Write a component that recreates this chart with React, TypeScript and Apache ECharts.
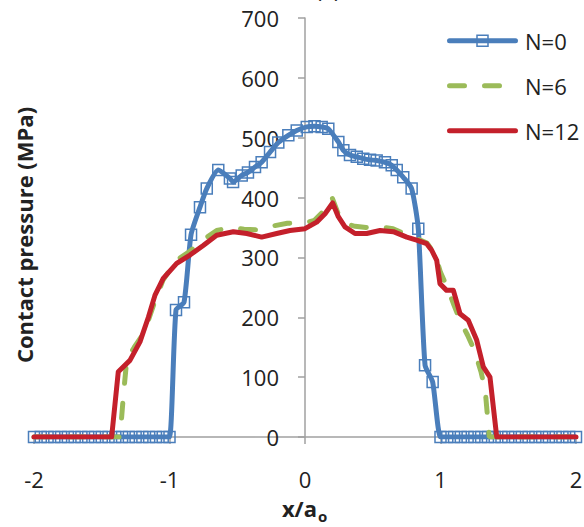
import React, { useEffect, useRef } from "react";
import * as echarts from "echarts";

// Contact pressure profiles across the contact width for three cycle counts
const xTicks = ["-2", "-1", "0", "1", "2"];
const yTicks = [0, 100, 200, 300, 400, 500, 600, 700];
const seriesNames = ["N=0", "N=6", "N=12"];

const n0: number[][] = [
  [-2, 0], [-1.95, 0], [-1.9, 0], [-1.85, 0], [-1.8, 0], [-1.75, 0], [-1.7, 0],
  [-1.65, 0], [-1.6, 0], [-1.55, 0], [-1.5, 0], [-1.45, 0], [-1.4, 0], [-1.35, 0],
  [-1.3, 0], [-1.25, 0], [-1.2, 0], [-1.15, 0], [-1.1, 0], [-1.05, 0], [-1.0, 0],
  [-0.952, 212], [-0.893, 225], [-0.841, 338], [-0.775, 384], [-0.725, 415],
  [-0.64, 446], [-0.554, 432], [-0.531, 426], [-0.467, 437], [-0.421, 442],
  [-0.369, 451], [-0.32, 459], [-0.258, 476], [-0.197, 492], [-0.123, 504],
  [-0.061, 512], [0.013, 518], [0.07, 519], [0.123, 518], [0.172, 515],
  [0.246, 493], [0.283, 479], [0.332, 471], [0.382, 468], [0.43, 465],
  [0.48, 463], [0.529, 462], [0.59, 459], [0.64, 454], [0.677, 446],
  [0.725, 434], [0.787, 415], [0.836, 348], [0.886, 120], [0.942, 92],
  [1.0, 0], [1.05, 0], [1.1, 0], [1.15, 0], [1.2, 0], [1.25, 0], [1.3, 0],
  [1.35, 0], [1.4, 0], [1.45, 0], [1.5, 0], [1.55, 0], [1.6, 0], [1.65, 0],
  [1.7, 0], [1.75, 0], [1.8, 0], [1.85, 0], [1.9, 0], [1.95, 0], [2.0, 0],
];

const n6: number[][] = [
  [-2, 0], [-1.8, 0], [-1.6, 0], [-1.4, 0], [-1.365, 0], [-1.34, 70],
  [-1.315, 130], [-1.26, 150], [-1.2, 170], [-1.156, 195], [-1.1, 232],
  [-1.048, 262], [-0.95, 295], [-0.85, 310], [-0.75, 330], [-0.652, 345],
  [-0.55, 350], [-0.45, 347], [-0.35, 346], [-0.25, 352], [-0.13, 357],
  [0, 358], [0.07, 362], [0.14, 378], [0.2, 400], [0.25, 370], [0.3, 356],
  [0.37, 352], [0.45, 350], [0.55, 351], [0.65, 348], [0.75, 338],
  [0.82, 332], [0.9, 324], [0.96, 305], [1.0, 275], [1.05, 250], [1.1, 220],
  [1.15, 192], [1.2, 170], [1.25, 145], [1.3, 108], [1.33, 78], [1.36, 0],
  [1.6, 0], [1.8, 0], [2, 0],
];

const n12: number[][] = [
  [-2, 0], [-1.8, 0], [-1.6, 0], [-1.427, 0], [-1.378, 109], [-1.292, 128],
  [-1.218, 159], [-1.156, 200], [-1.107, 237], [-1.046, 265], [-0.947, 290],
  [-0.849, 304], [-0.751, 320], [-0.652, 337], [-0.529, 343], [-0.43, 340],
  [-0.32, 334], [-0.209, 340], [-0.111, 345], [0, 348], [0.086, 359],
  [0.148, 373], [0.204, 391], [0.246, 368], [0.295, 351], [0.369, 340],
  [0.455, 340], [0.554, 345], [0.652, 343], [0.751, 334], [0.824, 329],
  [0.898, 323], [0.935, 312], [0.972, 295], [0.996, 256], [1.045, 245],
  [1.095, 245], [1.144, 206], [1.205, 195], [1.267, 162], [1.316, 117],
  [1.365, 100], [1.415, 0], [1.6, 0], [1.8, 0], [2, 0],
];

const FONT = "'Open Sans', sans-serif";
const BLUE = "#4a7ebb";
const GREEN = "#9bbb59";
const RED = "#c4202b";
const AXIS = "#a0a0a0";
const INK = "#222222";

const GRID_LEFT = 34;
const GRID_RIGHT = 8;
const WIDTH = 584;
// the value axis is drawn through x = 0, halfway across the plot
const Y_AXIS_SHIFT = (WIDTH - GRID_LEFT - GRID_RIGHT) / 2;

// Hand-drawn legend: line samples on the right, labels after them
function legendGraphics() {
  const x0 = 447;
  const x1 = 518;
  const rows = [40.7, 85.7, 130.7];
  const items: any[] = [];
  // N=0: solid blue with a hollow square in the middle
  items.push({
    type: "line",
    shape: { x1: x0 + 2.5, y1: rows[0], x2: x1 - 2.5, y2: rows[0] },
    style: { stroke: BLUE, lineWidth: 5, lineCap: "round" },
  });
  items.push({
    type: "rect",
    shape: { x: (x0 + x1) / 2 - 5.5, y: rows[0] - 5.5, width: 11, height: 11 },
    style: { fill: "rgba(255,255,255,0)", stroke: BLUE, lineWidth: 1.5 },
  });
  // N=6: two green dashes
  [[x0 + 2.5, x0 + 17.5], [x0 + 37.5, x0 + 52.5]].forEach(([a, b]) => {
    items.push({
      type: "line",
      shape: { x1: a, y1: rows[1], x2: b, y2: rows[1] },
      style: { stroke: GREEN, lineWidth: 5, lineCap: "round" },
    });
  });
  // N=12: solid red
  items.push({
    type: "line",
    shape: { x1: x0 + 2.5, y1: rows[2], x2: x1 - 2.5, y2: rows[2] },
    style: { stroke: RED, lineWidth: 5, lineCap: "round" },
  });
  seriesNames.forEach((name, i) => {
    items.push({
      type: "text",
      x: 525,
      y: rows[i],
      style: { text: name, font: `22px ${FONT}`, fill: INK, align: "left", verticalAlign: "middle" },
    });
  });
  return items;
}

export default function App() {
  const ref = useRef<HTMLDivElement>(null);

  useEffect(() => {
    if (!ref.current) return;
    const chart = echarts.init(ref.current, null, { renderer: "svg" });
    chart.setOption({
      animation: false,
      backgroundColor: "#ffffff",
      textStyle: { fontFamily: FONT },
      grid: {
        left: GRID_LEFT,
        right: GRID_RIGHT,
        top: 18,
        bottom: 90,
        containLabel: false,
        outerBoundsMode: "none",
      },
      xAxis: {
        type: "value",
        min: -2,
        max: 2,
        interval: 1,
        axisLine: { onZero: false, lineStyle: { color: AXIS, width: 1.5 } },
        axisTick: { show: true, length: 7, lineStyle: { color: AXIS, width: 1.5 } },
        splitLine: { show: false },
        axisLabel: {
          margin: 31,
          fontSize: 22,
          color: INK,
          fontFamily: FONT,
          formatter: (v: number) => xTicks[Math.round(v) + 2] ?? "",
        },
      },
      yAxis: {
        type: "value",
        position: "left",
        offset: -Y_AXIS_SHIFT,
        min: yTicks[0],
        max: yTicks[yTicks.length - 1],
        interval: 100,
        axisLine: { show: true, onZero: false, lineStyle: { color: AXIS, width: 1.5 } },
        axisTick: { show: true, length: 7, lineStyle: { color: AXIS, width: 1.5 } },
        splitLine: { show: false },
        axisLabel: { margin: 26, fontSize: 22, color: INK, fontFamily: FONT },
      },
      graphic: [
        {
          type: "text",
          x: 24,
          y: 235,
          rotation: Math.PI / 2,
          style: {
            text: "Contact pressure (MPa)",
            font: `bold 22px ${FONT}`,
            fill: INK,
            align: "center",
            verticalAlign: "middle",
          },
        },
        {
          type: "text",
          x: 317,
          y: 508,
          style: { text: "x/a", font: `bold 22px ${FONT}`, fill: INK, align: "right", verticalAlign: "middle" },
        },
        {
          type: "text",
          x: 318,
          y: 516,
          style: { text: "o", font: `bold 15px ${FONT}`, fill: INK, align: "left", verticalAlign: "middle" },
        },
        {
          type: "text",
          x: 328,
          y: -11,
          style: { text: "(a)", font: `22px ${FONT}`, fill: INK, align: "center", verticalAlign: "middle" },
        },
        ...legendGraphics(),
      ],
      series: [
        {
          name: seriesNames[0],
          type: "line",
          data: n0,
          smooth: 0.2,
          symbol: "rect",
          symbolSize: 11,
          showSymbol: true,
          lineStyle: { color: BLUE, width: 5 },
          itemStyle: { color: "rgba(255,255,255,0)", borderColor: BLUE, borderWidth: 1.5 },
          z: 2,
        },
        {
          name: seriesNames[1],
          type: "line",
          data: n6,
          showSymbol: false,
          symbol: "none",
          lineStyle: { color: GREEN, width: 5, type: [15, 20], cap: "round" },
          itemStyle: { color: GREEN },
          z: 3,
        },
        {
          name: seriesNames[2],
          type: "line",
          data: n12,
          showSymbol: false,
          symbol: "none",
          lineStyle: { color: RED, width: 5, cap: "round", join: "round" },
          itemStyle: { color: RED },
          z: 4,
        },
      ],
    });
    return () => chart.dispose();
  }, []);

  return (
    <div
      ref={ref}
      style={{ position: "fixed", left: 0, top: 0, width: WIDTH, height: 527, background: "#fff" }}
    />
  );
}
